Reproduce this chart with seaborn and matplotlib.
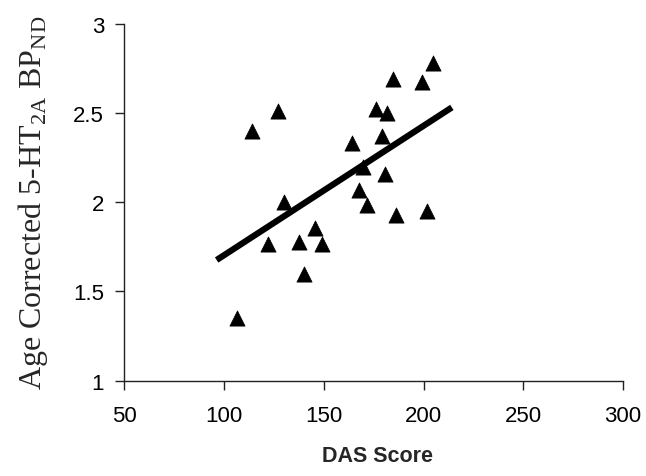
import numpy as np
import pandas as pd
import matplotlib
matplotlib.use("Agg")
import matplotlib.pyplot as plt
import seaborn as sns

# Data
das_score = [106.4, 113.9, 126.9, 130.1, 122.2, 137.8, 145.6, 149.0, 140.3, 164.3, 169.9,
             167.6, 171.9, 176.1, 181.9, 179.4, 180.7, 186.3, 184.9, 199.1, 205.0, 201.7]
bp_nd = [1.350, 2.402, 2.514, 2.004, 1.766, 1.776, 1.856, 1.766, 1.598, 2.333, 2.197,
         2.069, 1.985, 2.523, 2.501, 2.370, 2.159, 1.931, 2.692, 2.676, 2.781, 1.953]
fit_range = [96.3, 214.2]
x_ticks = [50, 100, 150, 200, 250, 300]
y_ticks = [1, 1.5, 2, 2.5, 3]
y_tick_labels = ["1", "1.5", "2", "2.5", "3"]

sns.set_theme(style="white")
plt.rcParams["font.family"] = ["Liberation Sans", "DejaVu Sans"]
plt.rcParams["mathtext.fontset"] = "custom"
plt.rcParams["mathtext.rm"] = "Liberation Serif"

df = pd.DataFrame({"DAS Score": das_score, "BP": bp_nd})

slope, intercept = np.polyfit(das_score, bp_nd, 1)
fit_df = pd.DataFrame({"x": fit_range, "y": [slope * v + intercept for v in fit_range]})

fig = plt.figure(figsize=(6.46, 4.77), dpi=100)
ax = fig.add_axes([0.1924, 0.2, 0.772, 0.7476])

sns.lineplot(data=fit_df, x="x", y="y", ax=ax, color="black", linewidth=4.5,
             solid_capstyle="butt", zorder=2)
sns.scatterplot(data=df, x="DAS Score", y="BP", ax=ax, marker="^", s=120,
                color="black", edgecolor="black", linewidth=0.5, zorder=3)

ax.set_xlim(50, 300)
ax.set_ylim(1, 3)
ax.set_xticks(x_ticks)
ax.set_xticklabels([str(t) for t in x_ticks])
ax.set_yticks(y_ticks)
ax.set_yticklabels(y_tick_labels)

for s in ["top", "right"]:
    ax.spines[s].set_visible(False)
for s in ["left", "bottom"]:
    ax.spines[s].set_color("#222222")
    ax.spines[s].set_linewidth(1.0)

ax.tick_params(axis="both", which="major", direction="out", length=6.5, width=1.0,
               color="#222222", labelsize=16, labelcolor="black", pad=8,
               bottom=True, left=True)
ax.tick_params(axis="x", pad=11)

ax.set_xlabel("DAS Score", fontsize=15.5, fontweight="bold")
ax.xaxis.set_label_coords(0.508, -0.18)
ax.set_ylabel(r"Age Corrected 5-HT$_{\mathrm{2A}}$ BP$_{\mathrm{ND}}$",
              fontsize=23, family="Liberation Serif", labelpad=17)

fig.savefig("out.png", dpi=100)
